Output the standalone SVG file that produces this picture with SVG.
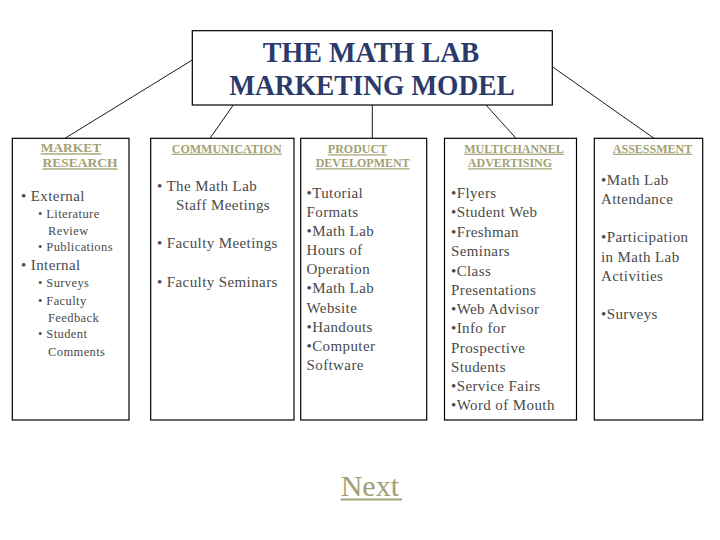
<svg xmlns="http://www.w3.org/2000/svg" width="720" height="540" viewBox="0 0 720 540">
<style>
.box{fill:#fff;stroke:#000;stroke-width:1.2}
.con line{stroke:#000;stroke-width:0.9}
.title{font-family:"Liberation Serif","Times New Roman",serif;font-weight:bold;font-size:29px;fill:#2b3a6b;text-anchor:middle}
.hd{font-family:"Liberation Serif","Times New Roman",serif;font-weight:bold;font-size:12px;fill:#a3a173;text-anchor:middle;text-decoration:underline}
.b{font-family:"Liberation Serif","Times New Roman",serif;font-size:15px;fill:#4a4a4a;letter-spacing:0.4px}
.s{font-family:"Liberation Serif","Times New Roman",serif;font-size:12.5px;fill:#4a4a4a;letter-spacing:0.4px}
.next{font-family:"Liberation Serif","Times New Roman",serif;font-size:30px;fill:#a3a173}
</style>
<rect width="720" height="540" fill="#fff"/>
<g class="con" id="connectors">
<line x1="192.3" y1="60" x2="65" y2="138.3"/>
<line x1="233.3" y1="105" x2="210" y2="138.3"/>
<line x1="372.3" y1="105" x2="372.3" y2="138.3"/>
<line x1="486" y1="105" x2="516" y2="138.3"/>
<line x1="552.3" y1="66.7" x2="654" y2="138.3"/>
</g>
<g id="title">
<rect class="box" x="192.3" y="30.7" width="360" height="74.3"/>
<text class="title" x="371" y="62.3" textLength="216.6" lengthAdjust="spacingAndGlyphs">THE MATH LAB</text>
<text class="title" x="372" y="94.7" textLength="285.7" lengthAdjust="spacingAndGlyphs">MARKETING MODEL</text>
</g>
<g id="market-research">
<rect class="box" x="12.3" y="138.3" width="116.7" height="281.7"/>
<text class="hd" style="font-size:13.5px" x="71" y="152.3">MARKET</text>
<text class="hd" style="font-size:13.5px" x="80" y="167.3">RESEARCH</text>
<text class="b" x="21" y="200.7">• External</text>
<text class="s" x="38" y="218">• Literature</text>
<text class="s" x="48" y="235">Review</text>
<text class="s" x="38" y="250.7">• Publications</text>
<text class="b" x="21" y="270">• Internal</text>
<text class="s" x="38" y="287">• Surveys</text>
<text class="s" x="38" y="305">• Faculty</text>
<text class="s" x="48" y="321.7">Feedback</text>
<text class="s" x="38" y="338">• Student</text>
<text class="s" x="48" y="355.7">Comments</text>
</g>
<g id="communication">
<rect class="box" x="150.7" y="138.3" width="143.3" height="281.7"/>
<text class="hd" x="226.7" y="152.7">COMMUNICATION</text>
<text class="b" x="157" y="191">• The Math Lab</text>
<text class="b" x="176" y="210">Staff Meetings</text>
<text class="b" x="157" y="248">• Faculty Meetings</text>
<text class="b" x="157" y="286.7">• Faculty Seminars</text>
</g>
<g id="product-development">
<rect class="box" x="300.7" y="138.3" width="126" height="281.7"/>
<text class="hd" x="357.5" y="153.3">PRODUCT</text>
<text class="hd" x="362.7" y="167.3">DEVELOPMENT</text>
<text class="b" x="306.5" y="198.3">•Tutorial</text>
<text class="b" x="306.5" y="217.3">Formats</text>
<text class="b" x="306.5" y="236.3">•Math Lab</text>
<text class="b" x="306.5" y="255.3">Hours of</text>
<text class="b" x="306.5" y="274.3">Operation</text>
<text class="b" x="306.5" y="293.3">•Math Lab</text>
<text class="b" x="306.5" y="312.6">Website</text>
<text class="b" x="306.5" y="331.7">•Handouts</text>
<text class="b" x="306.5" y="350.7">•Computer</text>
<text class="b" x="306.5" y="370">Software</text>
</g>
<g id="multichannel-advertising">
<rect class="box" x="444.5" y="138.3" width="132" height="281.7"/>
<text class="hd" x="514" y="152.7">MULTICHANNEL</text>
<text class="hd" x="510" y="167.3">ADVERTISING</text>
<text class="b" x="451" y="198.3">•Flyers</text>
<text class="b" x="451" y="217.3">•Student Web</text>
<text class="b" x="451" y="236.7">•Freshman</text>
<text class="b" x="451" y="255.7">Seminars</text>
<text class="b" x="451" y="275.7">•Class</text>
<text class="b" x="451" y="295">Presentations</text>
<text class="b" x="451" y="314">•Web Advisor</text>
<text class="b" x="451" y="333.3">•Info for</text>
<text class="b" x="451" y="352.7">Prospective</text>
<text class="b" x="451" y="371.7">Students</text>
<text class="b" x="451" y="391">•Service Fairs</text>
<text class="b" x="451" y="410">•Word of Mouth</text>
</g>
<g id="assessment">
<rect class="box" x="594.3" y="138.3" width="108.4" height="281.7"/>
<text class="hd" x="652.5" y="152.7">ASSESSMENT</text>
<text class="b" x="601" y="185">•Math Lab</text>
<text class="b" x="601" y="204">Attendance</text>
<text class="b" x="601" y="242.3">•Participation</text>
<text class="b" x="601" y="261.7">in Math Lab</text>
<text class="b" x="601" y="280.7">Activities</text>
<text class="b" x="601" y="319.3">•Surveys</text>
</g>
<g id="next">
<text class="next" x="340.7" y="496">Next</text>
<line x1="340.7" y1="499.5" x2="402" y2="499.5" stroke="#a3a173" stroke-width="2"/>
</g>
</svg>
